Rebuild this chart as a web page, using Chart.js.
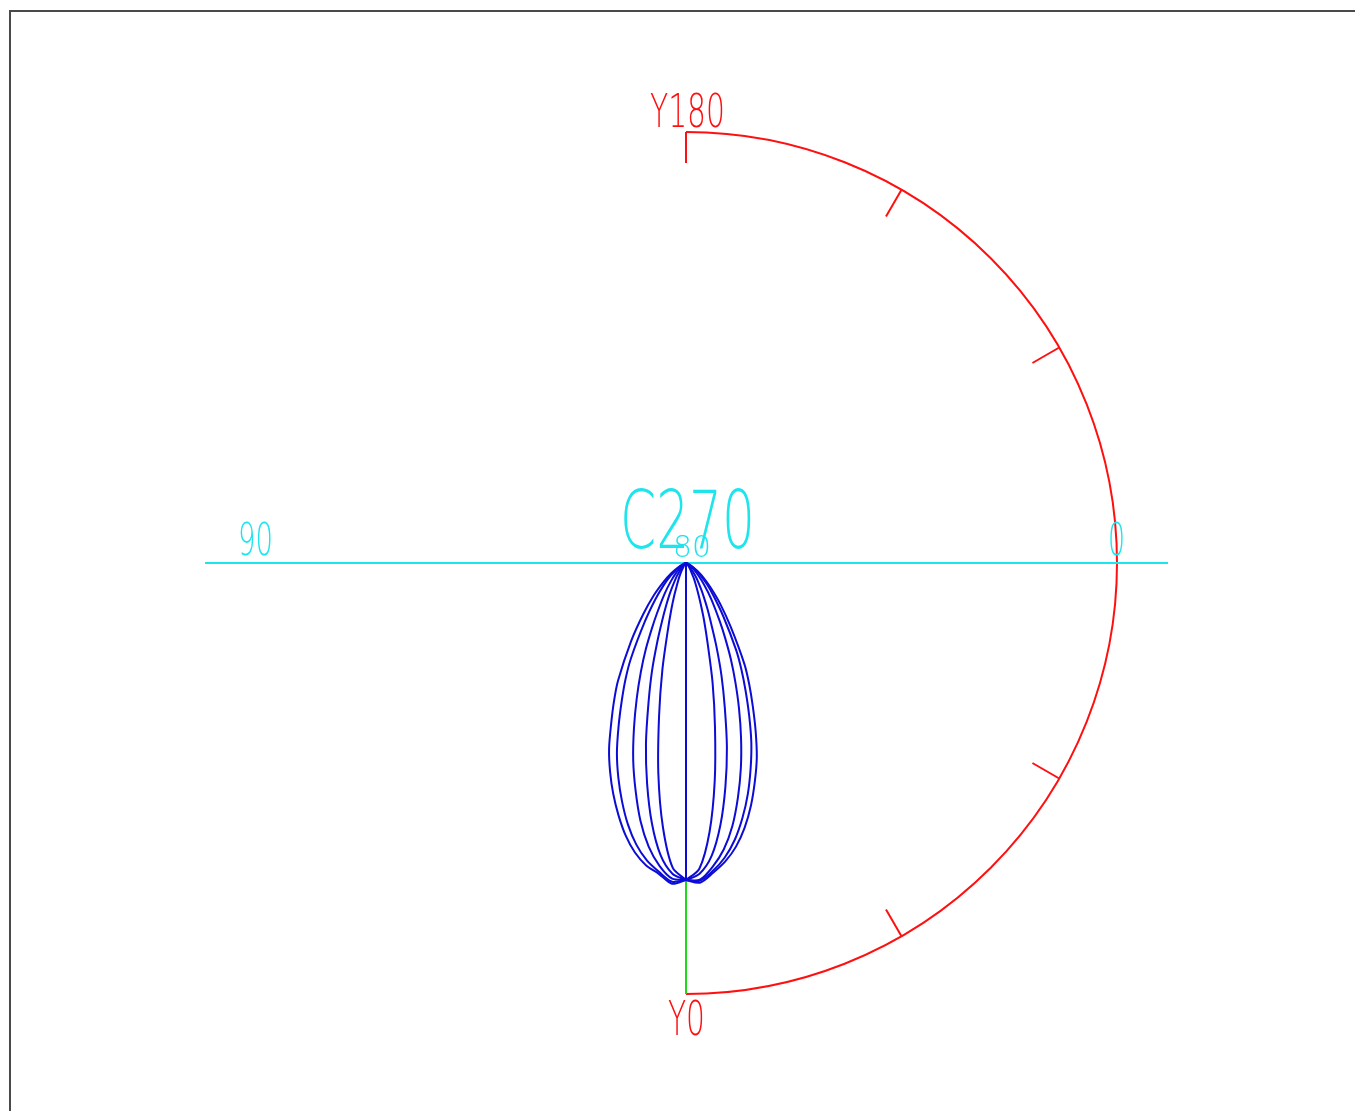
<!DOCTYPE html>
<html>
<head>
<meta charset="utf-8">
<script src="https://cdn.jsdelivr.net/npm/chart.js@4.4.1/dist/chart.umd.min.js"></script>
<style>
  body { margin: 0; background: #fff; }
  canvas { display: block; }
</style>
</head>
<body>
<canvas id="polarChart" width="1355" height="1111"></canvas>
<script>
// gamma angles (deg from nadir) and intensity per half plane
const gammaAngles = [0, 2.5, 5, 7.5, 10, 12.5, 15, 17.5, 20, 22.5, 25, 27.5, 30, 35, 40, 45, 50, 55, 60, 70, 90];

const leftPlane1 = [317, 321, 312, 305, 294, 279, 261, 242, 222, 201, 177, 156, 136, 96, 66, 45, 29, 18, 10, 3, 0];
const leftPlane2 = [317, 319, 310, 300, 286, 268, 247, 225, 202, 176, 152, 131, 110, 72, 48, 32, 21, 12, 7, 2, 0];
const leftPlane3 = [317, 316, 304, 286, 262, 233, 204, 173, 144, 118, 95, 74, 58, 37, 23, 14, 8, 5, 3, 1, 0];
const leftPlane4 = [317, 311, 293, 262, 224, 185, 145, 113, 84, 62, 47, 36, 27, 16, 8, 5, 3, 2, 1, 0, 0];
const leftPlane5 = [317, 305, 265, 212, 155, 109, 71, 49, 34, 23, 17, 12, 8, 4, 2, 1, 0, 0, 0, 0, 0];

const rightPlane1 = [317, 320, 311, 301, 288, 271, 251, 229, 207, 182, 158, 137, 117, 78, 53, 35, 23, 14, 8, 2, 0];
const rightPlane2 = [317, 318, 309, 297, 281, 261, 239, 215, 191, 165, 141, 120, 100, 65, 43, 29, 18, 11, 6, 2, 0];
const rightPlane3 = [317, 317, 305, 289, 267, 240, 212, 183, 155, 129, 106, 85, 68, 44, 28, 17, 10, 6, 4, 1, 0];
const rightPlane4 = [317, 311, 294, 264, 227, 189, 150, 118, 89, 66, 51, 39, 30, 18, 9, 6, 3, 2, 1, 0, 0];
const rightPlane5 = [317, 306, 270, 220, 167, 123, 84, 60, 42, 30, 22, 16, 11, 6, 3, 2, 1, 0, 0, 0, 0];

// outer scale circle and its ticks (deg, clockwise from top)
const scaleRadius = 431;
const scaleTickAngles = [0, 30, 60, 90, 120, 150, 180];
const nadirValue = 317;

const RED = '#ff1010';
const CYAN = '#1ee4ec';
const BLUE = '#0c0cd6';
const GREEN = '#1ed81e';

function halfPlane(values, side) {
  return values.map((r, i) => {
    const g = gammaAngles[i] * Math.PI / 180;
    return { x: side * r * Math.sin(g), y: -r * Math.cos(g) };
  });
}

function lobe(values, side) {
  return {
    data: halfPlane(values, side),
    showLine: true,
    borderColor: BLUE,
    borderWidth: 2,
    pointRadius: 0,
    tension: 0.3,
    fill: false
  };
}

const datasets = [
  lobe(leftPlane1, -1), lobe(leftPlane2, -1), lobe(leftPlane3, -1), lobe(leftPlane4, -1), lobe(leftPlane5, -1),
  lobe(rightPlane1, 1), lobe(rightPlane2, 1), lobe(rightPlane3, 1), lobe(rightPlane4, 1), lobe(rightPlane5, 1),
  {
    data: [{ x: 0, y: 0 }, { x: 0, y: -nadirValue }],
    showLine: true, borderColor: BLUE, borderWidth: 2, pointRadius: 0
  }
];

const labels = [
  { text: 'Y180', box: [-36, 470, 39, 436], color: RED },
  { text: 'Y0', box: [-18, -437, 19, -472], color: RED },
  { text: 'C270', box: [-66, 73, 69, 15], color: CYAN },
  { text: '80', box: [-13, 28, 25, 6], color: CYAN },
  { text: '90', box: [-448, 41, -413, 8], color: CYAN },
  { text: '0', box: [422, 41, 439, 8], color: CYAN }
];

function line(ctx, xs, ys, a, b, color, w) {
  ctx.beginPath();
  ctx.strokeStyle = color;
  ctx.lineWidth = w;
  ctx.moveTo(xs.getPixelForValue(a[0]), ys.getPixelForValue(a[1]));
  ctx.lineTo(xs.getPixelForValue(b[0]), ys.getPixelForValue(b[1]));
  ctx.stroke();
}

const diagramPlugin = {
  id: 'diagram',
  beforeDatasetsDraw(chart) {
    const ctx = chart.ctx;
    const xs = chart.scales.x, ys = chart.scales.y;
    ctx.save();
    // frame
    ctx.strokeStyle = '#4a4a4a';
    ctx.lineWidth = 2;
    ctx.beginPath();
    ctx.moveTo(10, chart.height);
    ctx.lineTo(10, 11);
    ctx.lineTo(chart.width, 11);
    ctx.stroke();

    // half circle scale
    const cx = xs.getPixelForValue(0), cy = ys.getPixelForValue(0);
    const R = xs.getPixelForValue(scaleRadius) - cx;
    ctx.beginPath();
    ctx.strokeStyle = RED;
    ctx.lineWidth = 2;
    ctx.arc(cx, cy, R, -Math.PI / 2, Math.PI / 2);
    ctx.stroke();
    scaleTickAngles.forEach(t => {
      const a = t * Math.PI / 180;
      const r2 = scaleRadius - 31;
      line(ctx, xs, ys, [scaleRadius * Math.sin(a), scaleRadius * Math.cos(a)],
        [r2 * Math.sin(a), r2 * Math.cos(a)], RED, 2);
    });

    // axes
    line(ctx, xs, ys, [-481, 0], [482, 0], CYAN, 2);
    line(ctx, xs, ys, [0, -nadirValue], [0, -scaleRadius], GREEN, 2);
    ctx.restore();
  },
  afterDatasetsDraw(chart) {
    const ctx = chart.ctx;
    const xs = chart.scales.x, ys = chart.scales.y;
    labels.forEach(l => {
      const x0 = xs.getPixelForValue(l.box[0]), x1 = xs.getPixelForValue(l.box[2]);
      const y0 = ys.getPixelForValue(l.box[1]), y1 = ys.getPixelForValue(l.box[3]);
      const size = (y1 - y0) / 0.729;
      ctx.save();
      ctx.font = '200 ' + size + 'px "DejaVu Sans"';
      ctx.fillStyle = l.color;
      ctx.textBaseline = 'alphabetic';
      const w = ctx.measureText(l.text).width;
      ctx.translate(x0, y1);
      ctx.scale((x1 - x0) / w, 1);
      ctx.fillText(l.text, 0, 0);
      ctx.restore();
    });
  }
};

new Chart(document.getElementById('polarChart'), {
  type: 'scatter',
  data: { datasets },
  options: {
    responsive: false,
    devicePixelRatio: 1,
    animation: false,
    layout: { padding: 0 },
    plugins: { legend: { display: false }, tooltip: { enabled: false } },
    scales: {
      x: { type: 'linear', display: false, min: -686, max: 669 },
      y: { type: 'linear', display: false, min: -548, max: 563 }
    }
  },
  plugins: [diagramPlugin]
});
</script>
</body>
</html>
